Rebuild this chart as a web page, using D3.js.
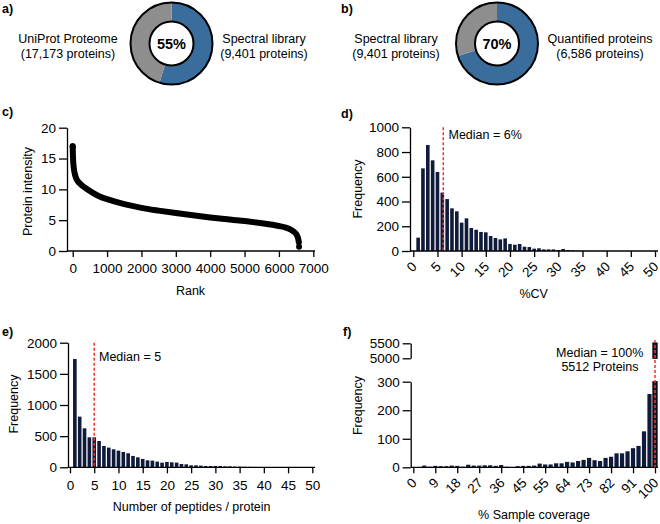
<!DOCTYPE html>
<html><head><meta charset="utf-8">
<script src="https://cdn.jsdelivr.net/npm/d3@7"></script>
<style>
body{margin:0;background:#fff}
svg{display:block}
</style></head><body>
<svg width="660" height="524"></svg>
<script>
// ---------- data ----------
const donutALabelsLeft = ["UniProt Proteome", "(17,173 proteins)"];
const donutALabelsRight = ["Spectral library", "(9,401 proteins)"];
const donutAValues = [9401, 17173 - 9401];
const donutBLabelsLeft = ["Spectral library", "(9,401 proteins)"];
const donutBLabelsRight = ["Quantified proteins", "(6,586 proteins)"];
const donutBValues = [6586, 9401 - 6586];

const rankKnots = [0, 3, 10, 25, 50, 100, 150, 200, 300, 400, 600, 800, 1000, 1500, 2000, 2500, 3000, 3500, 4000, 4500, 5000, 5500, 6000, 6200, 6350, 6450, 6520, 6560, 6580, 6586];
const intensityKnots = [17, 16.2, 15, 13.8, 12.8, 11.8, 11.3, 11, 10.5, 10.1, 9.4, 8.8, 8.4, 7.6, 7.0, 6.55, 6.15, 5.8, 5.45, 5.15, 4.85, 4.5, 4.05, 3.8, 3.45, 3.05, 2.6, 2.0, 1.4, 0.7];
const rankTicks = [0, 1000, 2000, 3000, 4000, 5000, 6000, 7000];
const intensityTicks = [0, 5, 10, 15, 20];

const cvBins = d3.range(1, 51);
const cvFreq = [108, 668, 857, 733, 639, 472, 420, 345, 321, 229, 264, 186, 172, 154, 151, 121, 105, 94, 102, 57, 51, 57, 35, 32, 19, 22, 13, 13, 13, 8, 16, 8, 5, 3, 2, 1, 1, 0, 0, 0, 0, 0, 0, 0, 0, 0, 0, 0, 0, 0];
const cvTicks = [0, 5, 10, 15, 20, 25, 30, 35, 40, 45, 50];
const cvFreqTicks = [0, 200, 400, 600, 800, 1000];
const cvMedian = 6.2;

const pepBins = d3.range(1, 51);
const pepFreq = [1738, 813, 626, 481, 481, 422, 342, 316, 289, 267, 246, 225, 182, 160, 134, 112, 107, 91, 75, 86, 80, 75, 53, 48, 32, 32, 27, 21, 21, 21, 21, 16, 16, 11, 11, 8, 7, 6, 5, 5, 4, 4, 3, 3, 3, 2, 2, 2, 1, 1];
const pepTicks = [0, 5, 10, 15, 20, 25, 30, 35, 40, 45, 50];
const pepFreqTicks = [0, 500, 1000, 1500, 2000];
const pepMedian = 5;

const covSamples = 44;
const covBins = d3.range(1, 45);
const covFreq = [0, 6, 2, 5, 4, 4, 6, 5, 2, 9, 6, 6, 7, 7, 5, 8, 2, 1, 4, 5, 5, 6, 13, 10, 10, 14, 14, 19, 17, 22, 26, 33, 25, 22, 33, 37, 49, 49, 56, 67, 75, 126, 257, 5512];
const covTickLabels = ["0", "9", "18", "27", "36", "45", "55", "64", "73", "82", "91", "100"];
const covLowTicks = [0, 100, 200, 300];
const covHighTicks = [5000, 5500];
const covMedian = 100;

// ---------- style ----------
const FONT = '"Liberation Sans", Arial, Helvetica, sans-serif';
const FS = 12.5;
const TFS = 13.5;
const NAVY = "#101b3b", BLUE = "#3a6d9b", GREY = "#8e8e8e", RED = "#f0342c";
const svg = d3.select("svg").attr("font-family", FONT).attr("font-size", FS);
const fmt = d3.format("d");

function styleAxis(g) {
  g.attr("font-family", FONT).attr("font-size", TFS);
  g.selectAll("line").attr("stroke", "#000").attr("stroke-width", 1.3);
  g.selectAll("path").attr("stroke", "#000").attr("stroke-width", 1.3);
  g.selectAll("text").attr("fill", "#000");
}
function hline(x1, x2, y) {
  svg.append("line").attr("x1", x1).attr("x2", x2).attr("y1", y).attr("y2", y)
    .attr("stroke", "#000").attr("stroke-width", 1.3);
}
function label(x, y, t, opts = {}) {
  const el = svg.append("text").attr("x", x).attr("y", y).text(t)
    .attr("text-anchor", opts.anchor || "start").attr("fill", "#000");
  if (opts.bold) el.attr("font-weight", "bold");
  if (opts.size) el.attr("font-size", opts.size);
  return el;
}
function vlabel(x, y, t) {
  svg.append("text").attr("transform", `translate(${x},${y}) rotate(-90)`)
    .attr("text-anchor", "middle").attr("dy", "0.35em").text(t);
}

// ---------- a, b donuts ----------
function donut(cx, cy, values) {
  const g = svg.append("g").attr("transform", `translate(${cx},${cy})`);
  const pie = d3.pie().sort(null)(values);
  const arc = d3.arc().innerRadius(22).outerRadius(41);
  g.selectAll("path").data(pie).join("path").attr("d", arc)
    .attr("fill", (d, i) => i === 0 ? BLUE : GREY);
  g.append("circle").attr("r", 41).attr("fill", "none").attr("stroke", "#000").attr("stroke-width", 2);
  g.append("circle").attr("r", 22).attr("fill", "#fff").attr("stroke", "#000").attr("stroke-width", 2);
  g.append("text").attr("text-anchor", "middle").attr("dy", "0.36em")
    .attr("font-weight", "bold").attr("font-size", 14.5)
    .text(Math.round(100 * values[0] / d3.sum(values)) + "%");
}
function twoLines(cx, lines) {
  lines.forEach((t, i) => label(cx, 42.5 + i * 15, t, { anchor: "middle" }));
}
label(2, 13, "a)", { bold: true });
donut(171.5, 43.5, donutAValues);
twoLines(68, donutALabelsLeft);
twoLines(264, donutALabelsRight);

label(341, 13, "b)", { bold: true });
donut(497, 43.5, donutBValues);
twoLines(396, donutBLabelsLeft);
twoLines(600, donutBLabelsRight);

// ---------- c ----------
{
  label(2, 116, "c)", { bold: true });
  const x = d3.scaleLinear().domain([0, 7000]).range([72.7, 313.3]);
  const y = d3.scaleLinear().domain([0, 20]).range([251, 127.7]);
  const ga = svg.append("g").attr("transform", "translate(67,0)")
    .call(d3.axisLeft(y).tickValues(intensityTicks).tickSize(8).tickPadding(3).tickSizeOuter(0).tickFormat(fmt));
  styleAxis(ga);
  const gb = svg.append("g").attr("transform", "translate(0,251)")
    .call(d3.axisBottom(x).tickValues(rankTicks).tickSize(6).tickPadding(6).tickFormat(fmt));
  gb.select(".domain").remove();
  styleAxis(gb);
  hline(67, 315, 251);
  const pts = rankKnots.map((r, i) => [r, intensityKnots[i]]);
  const line = d3.line().x(d => x(d[0])).y(d => y(d[1])).curve(d3.curveMonotoneX);
  svg.append("path").attr("d", line(pts.slice(0, -1))).attr("fill", "none")
    .attr("stroke", "#000").attr("stroke-width", 6).attr("stroke-linecap", "round").attr("stroke-linejoin", "round");
  svg.selectAll(".cdot").data([pts[0], pts[pts.length - 1]]).join("circle")
    .attr("cx", d => x(d[0])).attr("cy", d => y(d[1])).attr("r", 3).attr("fill", "#000");
  vlabel(27.5, 191.5, "Protein intensity");
  label(190.5, 295, "Rank", { anchor: "middle" });
}

// ---------- histogram helper ----------
function rotLabels(g) {
  g.selectAll(".tick text").attr("y", 0).attr("dy", "0.35em")
    .attr("text-anchor", "end").attr("transform", "translate(0.5,13) rotate(-45)");
}

// ---------- d ----------
{
  label(341, 118, "d)", { bold: true });
  const x = d3.scaleLinear().domain([0, 50]).range([413.3, 655]);
  const y = d3.scaleLinear().domain([0, 1000]).range([251, 127.3]);
  const bw = 3.6;
  svg.selectAll(".dbar").data(cvBins).join("rect")
    .attr("x", d => x(d) - bw / 2).attr("width", bw)
    .attr("y", (d, i) => y(cvFreq[i])).attr("height", (d, i) => y(0) - y(cvFreq[i]))
    .attr("fill", NAVY);
  const ga = svg.append("g").attr("transform", "translate(410,0)")
    .call(d3.axisLeft(y).tickValues(cvFreqTicks).tickSize(8).tickPadding(3).tickSizeOuter(0).tickFormat(fmt));
  styleAxis(ga);
  const gb = svg.append("g").attr("transform", "translate(0,251)")
    .call(d3.axisBottom(x).tickValues(cvTicks).tickSize(6).tickFormat(fmt));
  gb.select(".domain").remove();
  styleAxis(gb);
  rotLabels(gb);
  hline(410, 658, 251);
  svg.append("line").attr("x1", x(cvMedian)).attr("x2", x(cvMedian)).attr("y1", y(1000)).attr("y2", y(0))
    .attr("stroke", RED).attr("stroke-width", 1.5).attr("stroke-dasharray", "3,2");
  label(448.5, 139, "Median = 6%");
  vlabel(357.5, 189, "Frequency");
  label(533.7, 297.5, "%CV", { anchor: "middle" });
}

// ---------- e ----------
{
  label(2, 336, "e)", { bold: true });
  const x = d3.scaleLinear().domain([0, 50]).range([70, 312.3]);
  const y = d3.scaleLinear().domain([0, 2000]).range([467.3, 342.7]);
  const bw = 3.6;
  svg.selectAll(".ebar").data(pepBins).join("rect")
    .attr("x", d => x(d) - bw / 2).attr("width", bw)
    .attr("y", (d, i) => y(pepFreq[i])).attr("height", (d, i) => y(0) - y(pepFreq[i]))
    .attr("fill", NAVY);
  const ga = svg.append("g").attr("transform", "translate(68,0)")
    .call(d3.axisLeft(y).tickValues(pepFreqTicks).tickSize(8).tickPadding(3).tickSizeOuter(0).tickFormat(fmt));
  styleAxis(ga);
  const gb = svg.append("g").attr("transform", "translate(0,467.3)")
    .call(d3.axisBottom(x).tickValues(pepTicks).tickSize(6).tickPadding(7).tickFormat(fmt));
  gb.select(".domain").remove();
  styleAxis(gb);
  hline(68, 315, 467.3);
  svg.append("line").attr("x1", x(pepMedian)).attr("x2", x(pepMedian)).attr("y1", y(2000)).attr("y2", y(0))
    .attr("stroke", RED).attr("stroke-width", 1.5).attr("stroke-dasharray", "3,2");
  label(99, 361, "Median = 5");
  vlabel(13.3, 404, "Frequency");
  label(191.7, 511, "Number of peptides / protein", { anchor: "middle" });
}

// ---------- f ----------
{
  label(343, 336, "f)", { bold: true });
  const x = d3.scaleLinear().domain([0, 100]).range([413.3, 655]);
  const yLow = d3.scaleLinear().domain([0, 300]).range([467.3, 381.7]);
  const yHigh = d3.scaleLinear().domain([5000, 5500]).range([358.3, 343.3]);
  const bw = 4.2;
  const pos = k => x(100 * k / covSamples);
  const bars = covBins.map((k, i) => ({ k, v: covFreq[i] }));
  svg.selectAll(".fbar").data(bars).join("rect")
    .attr("x", d => pos(d.k) - bw / 2).attr("width", bw)
    .attr("y", d => yLow(Math.min(d.v, 300))).attr("height", d => yLow(0) - yLow(Math.min(d.v, 300)))
    .attr("fill", NAVY)
    .attr("stroke", d => d.v > 300 ? "#000" : "none").attr("stroke-width", 1);
  const hi = bars.filter(d => d.v >= 5000);
  svg.selectAll(".fbarhi").data(hi).join("rect")
    .attr("x", d => pos(d.k) - bw / 2).attr("width", bw)
    .attr("y", d => yHigh(d.v)).attr("height", d => yHigh(5000) - yHigh(d.v))
    .attr("fill", NAVY).attr("stroke", "#000").attr("stroke-width", 1);
  const ga = svg.append("g").attr("transform", "translate(410.7,0)")
    .call(d3.axisLeft(yLow).tickValues(covLowTicks).tickSize(8).tickPadding(3).tickSizeOuter(0).tickFormat(fmt));
  styleAxis(ga);
  const gh = svg.append("g").attr("transform", "translate(410.7,0)")
    .call(d3.axisLeft(yHigh).tickValues(covHighTicks).tickSize(8).tickPadding(3).tickSizeOuter(0).tickFormat(fmt));
  styleAxis(gh);
  const tickVals = covTickLabels.map((t, i) => 100 * i / 11);
  const gb = svg.append("g").attr("transform", "translate(0,467.3)")
    .call(d3.axisBottom(x).tickValues(tickVals).tickSize(6).tickFormat((d, i) => covTickLabels[i]));
  gb.select(".domain").remove();
  styleAxis(gb);
  rotLabels(gb);
  hline(410.7, 658, 467.3);
  svg.append("line").attr("x1", x(covMedian)).attr("x2", x(covMedian)).attr("y1", 340).attr("y2", yLow(0))
    .attr("stroke", RED).attr("stroke-width", 1.5).attr("stroke-dasharray", "3,2");
  label(599.7, 357, "Median = 100%", { anchor: "middle" });
  label(600, 371, "5512 Proteins", { anchor: "middle" });
  vlabel(357.5, 405.5, "Frequency");
  label(534, 518.5, "% Sample coverage", { anchor: "middle" });
}
</script>
</body></html>
